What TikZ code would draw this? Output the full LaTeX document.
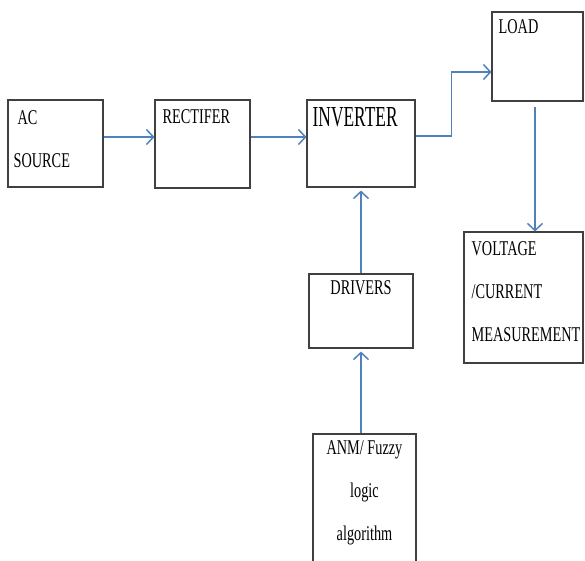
\documentclass[tikz,border=0pt]{standalone}
\usepackage{fontspec}
\setmainfont{Liberation Serif}
\newfontfamily\blockfont[FakeStretch=0.68]{Liberation Serif}
\newfontfamily\bigblockfont[FakeStretch=0.6]{Liberation Serif}
\usetikzlibrary{arrows.meta}
\definecolor{flowblue}{RGB}{79,129,189}
\definecolor{boxgray}{RGB}{64,64,64}
\tikzset{
	block/.style={rectangle, draw=boxgray, line width=1.1pt, inner sep=0pt},
	txt/.style={inner sep=0pt, anchor=north west, align=left, text=black,
		font=\blockfont\fontsize{21}{43}\selectfont},
	flow/.style={draw=flowblue, line width=2pt,
		-{Straight Barb[length=7pt,width=15pt,line width=1.5pt]}},
}

\begin{document}
\begin{tikzpicture}[x=1pt, y=-1pt]
		\useasboundingbox (0,0) rectangle (585,560);
		\clip (0,0) rectangle (585,560);
		\node[block, minimum width=95pt, minimum height=87pt,
			label={[txt, xshift=6pt, yshift=-11pt]north west:{\hspace*{4pt}AC\\SOURCE}}]
			(ACSource) at (55.5,143.5) {};
		\node[block, minimum width=95pt, minimum height=88pt,
			label={[txt, xshift=8pt, yshift=-10pt]north west:{RECTIFER}}]
			(Rectifier) at (202.5,144) {};
		\node[block, minimum width=108pt, minimum height=87pt,
			label={[txt, font=\bigblockfont\fontsize{29}{34}\selectfont, xshift=6pt, yshift=-8pt]north west:{INVERTER}}]
			(Inverter) at (361,143.5) {};
		\node[block, minimum width=91pt, minimum height=89pt,
			label={[txt, xshift=7pt, yshift=-8pt]north west:{LOAD}}]
			(Load) at (537.5,56.5) {};
		\node[block, minimum width=119pt, minimum height=131pt,
			label={[txt, xshift=8pt, yshift=-10pt]north west:{VOLTAGE\\/CURRENT\\MEASUREMENT}}]
			(Measurement) at (523.5,297.5) {};
		\node[block, minimum width=104pt, minimum height=74pt,
			label={[txt, anchor=north, align=center, yshift=-7pt]north:{DRIVERS}}]
			(Drivers) at (361,311) {};
		\node[block, minimum width=103pt, minimum height=140pt,
			label={[txt, anchor=north, align=center, yshift=-7pt]north:{ANM/ Fuzzy\\logic\\algorithm}}]
			(Algorithm) at (364.5,504) {};
		\draw[flow] ([yshift=6.5pt]ACSource.east) -- ([yshift=6.5pt]ACSource.east -| Rectifier.west);
		\draw[flow] ([yshift=7pt]Rectifier.east) -- ([yshift=7pt]Rectifier.east -| Inverter.west);
		\draw[flow, line width=1.3pt] ([yshift=7.5pt]Inverter.east) -- ++(36,0) |- ([yshift=-15.5pt]Load.west);
		\draw[flow, line width=1.5pt] ([xshift=-2.5pt,yshift=-5pt]Load.south) coordinate (LoadOut) -- (LoadOut |- Measurement.north);
		\draw[flow] (Drivers.north) -- ([yshift=-3pt]Inverter.south);
		\draw[flow] (Algorithm.north -| Drivers.south) -- ([yshift=-3pt]Drivers.south);
\end{tikzpicture}
\end{document}
